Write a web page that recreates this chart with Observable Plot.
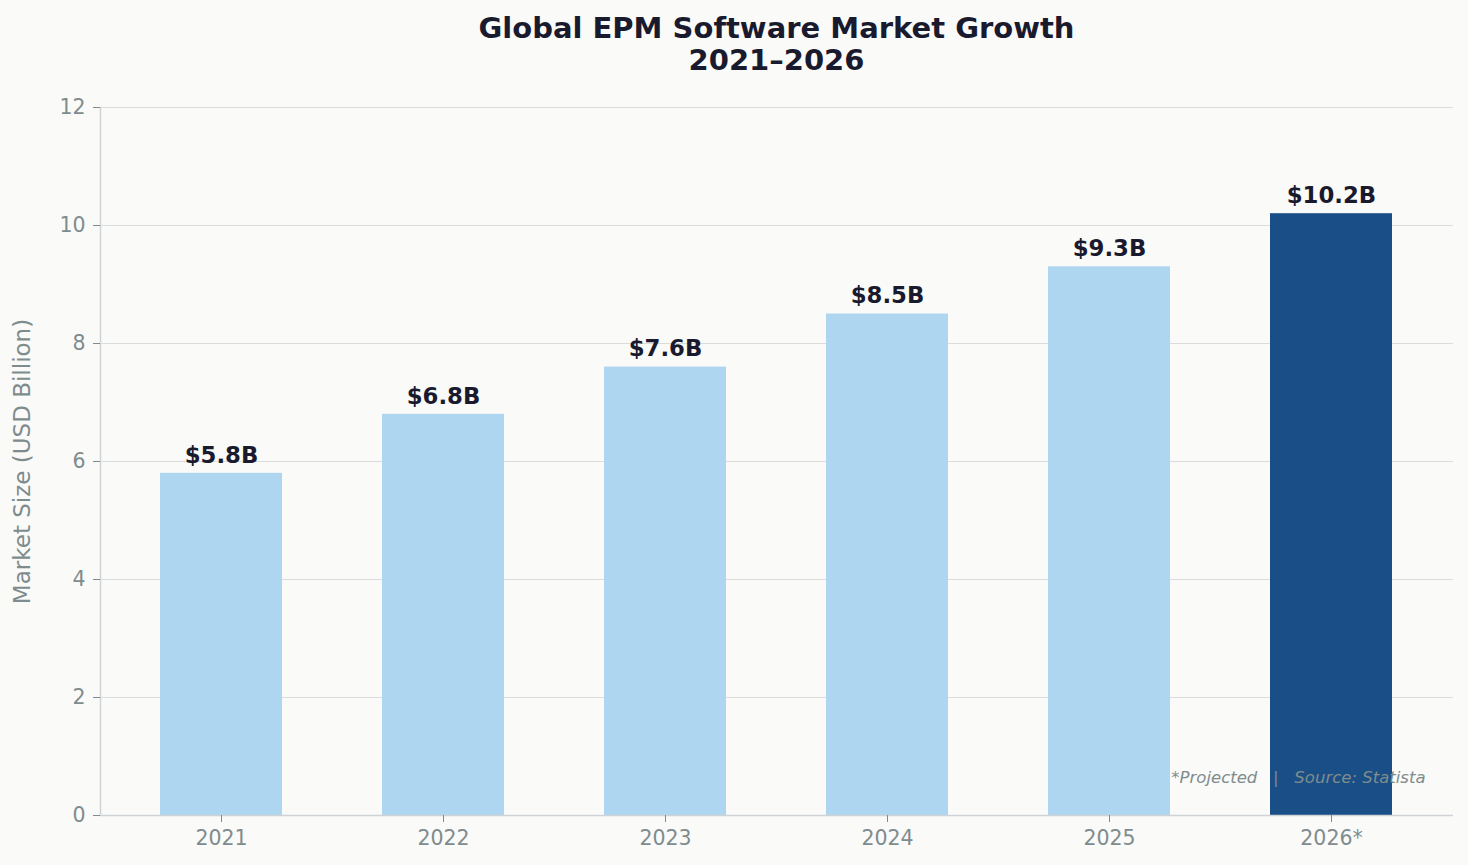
<!DOCTYPE html>
<html>
<head>
<meta charset="utf-8">
<script src="https://cdn.jsdelivr.net/npm/d3@7"></script>
<script src="https://cdn.jsdelivr.net/npm/@observablehq/plot@0.6"></script>
<style>
  html, body { margin: 0; padding: 0; background: #fafaf9; }
  #title {
    box-sizing: border-box; width: 1468px; height: 90px;
    padding: 12px 15px 0 100px; text-align: center;
    font-family: "DejaVu Sans", sans-serif; font-weight: bold;
    font-size: 29px; line-height: 32px; color: #1a1a2e;
  }
</style>
</head>
<body>
<div id="title">Global EPM Software Market Growth<br>2021–2026</div>
<div id="chart"></div>
<script>
// Market size per year (USD billion); the last year is a projection
const years = ["2021", "2022", "2023", "2024", "2025", "2026*"];
const values = [5.8, 6.8, 7.6, 8.5, 9.3, 10.2];
const projected = [false, false, false, false, false, true];
const yTicks = [0, 2, 4, 6, 8, 10, 12];
const yLabel = "Market Size (USD Billion)";
const footnote = "*Projected   |   Source: Statista";

const data = years.map((year, i) => ({ year, value: values[i], projected: projected[i] }));

const gray = "#7f8c8d";

const chart = Plot.plot({
  width: 1468,
  height: 775,
  marginTop: 17,
  marginBottom: 50,
  marginLeft: 100,
  marginRight: 15,
  style: { background: "#fafaf9", fontFamily: "DejaVu Sans, sans-serif", fontSize: "20.5px", color: gray },
  x: { domain: years, paddingInner: 0.45, paddingOuter: 0.27 },
  y: { domain: [0, 12] },
  marks: [
    Plot.gridY(yTicks, { stroke: "#dcdcdc", strokeOpacity: 1, strokeWidth: 1 }),
    Plot.barY(data.filter(d => !d.projected), { x: "year", y: "value", fill: "#aed6f1" }),
    Plot.barY(data.filter(d => d.projected), { x: "year", y: "value", fill: "#1a4e86" }),
    Plot.frame({ anchor: "left", stroke: "#d0d3d6", strokeWidth: 1.5 }),
    Plot.ruleY([0], { stroke: "#d0d3d6", strokeWidth: 1.5 }),
    Plot.axisY({
      ticks: yTicks, tickSize: 7, tickPadding: 8, stroke: gray, fill: gray,
      label: yLabel, labelAnchor: "center", labelArrow: "none", labelOffset: 87,
      fontSize: 20.5
    }),
    Plot.axisX({ tickSize: 7, tickPadding: 8, stroke: gray, fill: gray, label: null, fontSize: 20.5 }),
    Plot.text(data, {
      x: "year", y: "value", text: d => `$${d.value.toFixed(1)}B`,
      dy: -18, fontWeight: "bold", fontSize: 22.8, fill: "#1a1a2e"
    }),
    Plot.text([footnote], {
      frameAnchor: "bottom-right", dx: -28, dy: -33, textAnchor: "end",
      fontStyle: "italic", fontSize: 16.5, fill: gray
    })
  ]
});

// Axis title size
d3.select(chart).selectAll("g[aria-label='y-axis label'] text").attr("font-size", 23);

document.getElementById("chart").append(chart);
</script>
</body>
</html>
